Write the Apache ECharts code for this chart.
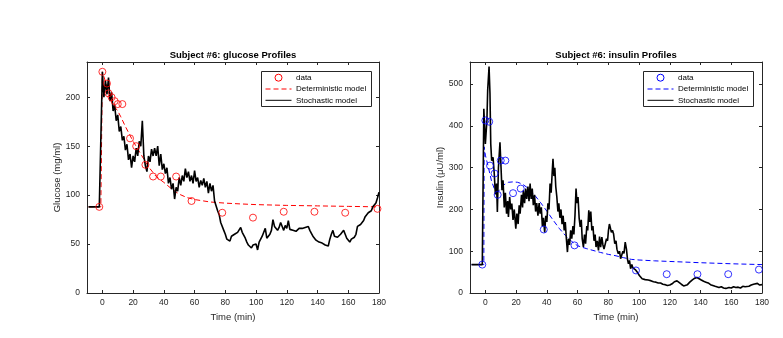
<!DOCTYPE html>
<html>
<head>
<meta charset="utf-8">
<script src="https://cdn.jsdelivr.net/npm/echarts@6/dist/echarts.min.js"></script>
<style>
  body { margin: 0; background: #fff; }
  #chart { width: 783px; height: 338px; }
</style>
</head>
<body>
<div id="chart"></div>
<script>
// glucose panel
const glucoseT = [-2, 0, 3, 4, 6, 8, 10, 13, 18, 22, 28, 33, 38, 48, 58, 78, 98, 118, 138, 158, 179];
const glucoseV = [88, 226, 214, 204, 200, 196, 193, 193, 158, 150, 131, 119, 119, 119, 94, 82, 77, 83, 83, 82, 86];
const glucoseDet = [[-9, 88], [-1, 88], [0, 226], [2, 216], [4, 205], [6, 196], [8, 190], [10, 186], [12, 180],
  [15, 170], [20, 155], [25, 142], [30, 129], [35, 119], [40, 113], [45, 106.5], [50, 101], [55, 97.5],
  [60, 95.5], [70, 93], [80, 91.8], [90, 91], [100, 90.3], [120, 89.5], [140, 89], [160, 88.5], [180, 88]];
const glucoseStoch = [[-9, 88], [-2, 88], [0, 226], [1, 200], [2, 217], [3, 203], [4, 220], [5, 196], [6, 205],
  [7, 186], [8, 192], [9, 176], [10, 182], [11, 165], [12, 170], [13, 156], [14, 160], [15, 146], [16, 152],
  [17, 136], [18, 142], [19, 128], [20, 140], [21, 134], [22, 148], [23, 140], [24, 155], [25, 150], [26, 176],
  [27, 140], [28, 130], [29, 124], [30, 140], [31, 134], [32, 147], [33, 140], [34, 148], [35, 140], [36, 150],
  [37, 130], [38, 142], [39, 126], [40, 132], [41, 122], [42, 128], [43, 112], [44, 118], [45, 106], [46, 112],
  [47, 96], [48, 108], [49, 104], [50, 118], [51, 110], [52, 120], [53, 114], [54, 127], [55, 118], [56, 124],
  [57, 114], [58, 120], [59, 112], [60, 125], [61, 114], [62, 118], [63, 108], [64, 115], [65, 110], [66, 117],
  [67, 108], [68, 114], [69, 102], [70, 112], [71, 104], [72, 110], [73, 94], [74, 96], [75, 84], [76, 80],
  [77, 72], [78, 74], [79, 64], [80, 60], [81, 55], [82, 57], [83, 53], [84, 58], [85, 56], [86, 60], [87, 58],
  [88, 62], [89, 63], [90, 67], [91, 62], [92, 60], [93, 56], [94, 52], [95, 49], [96, 50], [97, 46], [98, 49],
  [99, 47], [100, 50], [101, 44], [102, 52], [103, 50], [104, 58], [105, 62], [106, 66], [107, 56], [108, 54],
  [109, 60], [110, 64], [111, 75], [112, 68], [113, 70], [114, 64], [115, 67], [116, 72], [117, 68], [118, 64],
  [119, 69], [120, 66], [121, 74], [122, 65], [123, 63], [124, 64], [125, 66], [126, 63], [127, 64], [128, 66],
  [129, 64], [130, 66], [131, 65], [132, 67], [133, 66], [134, 68], [135, 64], [136, 61], [137, 58], [138, 56],
  [139, 54], [140, 55], [141, 52], [142, 53], [143, 51], [144, 52], [145, 49], [146, 50], [147, 48], [148, 55],
  [149, 60], [150, 64], [151, 58], [152, 60], [153, 57], [154, 56], [155, 60], [156, 62], [157, 64], [158, 60],
  [159, 56], [160, 54], [161, 52], [162, 55], [163, 53], [164, 57], [165, 60], [166, 68], [167, 66], [168, 70],
  [169, 68], [170, 74], [171, 78], [172, 80], [173, 82], [174, 80], [175, 84], [176, 88], [177, 90], [178, 92],
  [179, 97], [180, 103]];

// insulin panel
const insulinT = [-2, 0, 2.5, 3, 6, 8, 10, 13, 18, 23, 38, 58, 98, 118, 138, 158, 178];
const insulinV = [68, 413, 410, 305, 286, 235, 317, 317, 239, 250, 152, 114, 54, 45, 45, 45, 56];
const insulinDet = [[-9, 68], [-1, 68], [-0.8, 350], [0, 330], [2, 300], [4, 268], [6, 248], [8, 242], [10, 250],
  [12, 259], [15, 265], [18, 266], [21, 265], [24, 261], [27, 253], [30, 243], [33, 230], [36, 216], [40, 196],
  [44, 175], [48, 155], [52, 138], [56, 124], [60, 113], [66, 106], [70, 102], [75, 97], [80, 92.5], [85, 89],
  [90, 84.5], [95, 80.5], [100, 79], [110, 77], [120, 75.5], [140, 72.5], [160, 70], [180, 68]];
const insulinStoch = [[-9, 68], [-2, 68], [-1, 441], [0, 357], [1, 413], [1.5, 485], [2.4, 542], [3, 477],
  [3.5, 357], [4.1, 317], [5, 325], [5.8, 285], [6.5, 236], [7.3, 262], [7.8, 194], [8.5, 300], [9.5, 361],
  [10.2, 300], [10.8, 246], [11.5, 270], [12.3, 205], [13, 240], [13.8, 190], [14.5, 220], [15, 182], [15.8, 230],
  [16.5, 200], [17.2, 214], [18, 175], [18.8, 200], [19.8, 154], [20.5, 190], [21.3, 165], [22, 210], [22.6, 190],
  [23.5, 235], [24.2, 205], [24.7, 246], [25.5, 215], [26.2, 250], [26.9, 225], [27.7, 255], [28.4, 220],
  [29.1, 262], [29.8, 225], [30.5, 250], [31.2, 210], [32, 235], [32.7, 195], [33.4, 215], [34.2, 185], [35, 215],
  [35.6, 190], [36.4, 205], [37.1, 160], [37.8, 180], [38.6, 145], [39.3, 185], [40, 170], [40.7, 215],
  [41.4, 200], [42.1, 262], [42.8, 240], [43.5, 290], [44, 321], [44.6, 280], [45.2, 300], [45.8, 255],
  [46.5, 230], [47.2, 195], [47.8, 215], [48.5, 180], [49.2, 200], [49.9, 165], [50.6, 185], [51.3, 150],
  [52, 170], [52.7, 130], [53.4, 98], [54, 130], [54.8, 115], [55.5, 150], [56.2, 130], [57, 160], [57.6, 140],
  [58.3, 185], [59, 250], [59.6, 215], [60.3, 230], [61, 180], [61.7, 158], [62.4, 175], [63, 130], [63.8, 110],
  [64.5, 140], [65.2, 118], [66, 160], [66.6, 150], [67.3, 198], [68, 170], [68.6, 195], [69.3, 150], [70, 160],
  [70.7, 125], [71.4, 140], [72, 110], [72.8, 125], [73.6, 102], [74.3, 135], [75, 110], [75.8, 134], [76.5, 115],
  [77.2, 105], [78, 102], [78.8, 130], [79.5, 125], [80.1, 150], [80.7, 165], [81.2, 158], [82, 145], [82.7, 150],
  [83.4, 142], [84.2, 118], [85, 125], [85.6, 105], [86.5, 94], [87.3, 100], [88, 82], [88.8, 86], [89.5, 100],
  [90.2, 95], [91, 122], [91.8, 105], [92.5, 80], [93.1, 70], [93.8, 78], [94.5, 58], [95.3, 68], [96, 60],
  [96.8, 64], [97.5, 56], [98.2, 60], [98.8, 50], [99.6, 52], [100.2, 42], [101, 40], [102, 34], [103, 36],
  [104, 32], [105, 30], [106, 31], [107, 28], [108, 29], [109.4, 27], [111, 26], [112.5, 24], [114, 24],
  [115.5, 21], [117, 20], [118.5, 18], [120, 19], [121.5, 22], [123, 27], [124.7, 29], [126, 25], [127.5, 21],
  [129, 17], [130, 16], [131.5, 20], [133, 26], [134.5, 31], [136, 35], [137.7, 37], [139, 34], [140.5, 31],
  [142, 28], [143.5, 26], [145, 24], [146.5, 20], [148, 18], [149.5, 16], [150.7, 14], [152, 13], [153.5, 15],
  [155, 12], [156.5, 11], [157.5, 10], [158.5, 13], [160, 12], [161.5, 15], [163, 13], [164.5, 14], [166, 12],
  [167.5, 16], [169, 15], [170.3, 18], [171.5, 16], [173, 19], [174.5, 21], [175.7, 20], [177, 23], [178.5, 19],
  [180, 20]];

const legendLabels = ['data', 'Deterministic model', 'Stochastic model'];

const font = 'Liberation Sans, Arial, Helvetica, sans-serif';
const ink = '#262626';

function pairs(ts, vs) {
  return ts.map((t, i) => [t, vs[i]]);
}

function xAxes(gridIndex, title) {
  const common = {
    type: 'value', gridIndex, min: -10, max: 180, splitNumber: 10,
    axisLine: { show: true, onZero: false, lineStyle: { color: ink, width: 1 } },
    axisTick: { show: true, inside: true, length: 3, lineStyle: { color: ink } },
    splitLine: { show: false }
  };
  return [
    Object.assign({}, common, {
      position: 'bottom', name: 'Time (min)', nameLocation: 'middle', nameGap: 17,
      nameTextStyle: { fontSize: 9.5, color: ink, fontFamily: font },
      axisLabel: { fontSize: 8.5, color: ink, margin: 5, fontFamily: font, showMinLabel: false }
    }),
    Object.assign({}, common, {
      position: 'top', name: title, nameLocation: 'middle', nameGap: 2,
      nameTextStyle: { fontSize: 9.5, fontWeight: 'bold', color: '#000', fontFamily: font },
      axisLabel: { show: false }
    })
  ];
}

function yAxes(gridIndex, max, interval, name, gap) {
  const common = {
    type: 'value', gridIndex, min: 0, max, interval,
    axisLine: { show: true, onZero: false, lineStyle: { color: ink, width: 1 } },
    axisTick: { show: true, inside: true, length: 3, lineStyle: { color: ink } },
    splitLine: { show: false }
  };
  return [
    Object.assign({}, common, {
      position: 'left', name, nameLocation: 'middle', nameGap: gap,
      nameTextStyle: { fontSize: 9.5, color: ink, fontFamily: font },
      axisLabel: { fontSize: 8.5, color: ink, margin: 7, fontFamily: font, showMaxLabel: false }
    }),
    Object.assign({}, common, { position: 'right', axisLabel: { show: false } })
  ];
}

function panelSeries(color, xi, yi, obs, det, stoch) {
  return [
    {
      name: legendLabels[0], type: 'scatter', xAxisIndex: xi, yAxisIndex: yi, z: 5,
      symbol: 'circle', symbolSize: 7,
      itemStyle: { color: 'transparent', borderColor: color, borderWidth: 1 },
      data: obs
    },
    {
      name: legendLabels[1], type: 'line', xAxisIndex: xi, yAxisIndex: yi, z: 3,
      symbol: 'none', lineStyle: { color, width: 1, type: [5, 3] }, itemStyle: { color },
      data: det
    },
    {
      name: legendLabels[2], type: 'line', xAxisIndex: xi, yAxisIndex: yi, z: 4,
      symbol: 'none', lineStyle: { color: '#000', width: 1.6 }, itemStyle: { color: '#000' },
      data: stoch
    }
  ];
}

// MATLAB-style legend box: white box, glyph column, label column
function legendBox(x0, color) {
  const rows = [77.7, 89, 100.3];
  const gx = x0 + 4.5, gw = 26, tx = x0 + 35;
  const els = [
    { type: 'rect', shape: { x: x0 + 0.5, y: 71.5, width: 110, height: 35 },
      style: { fill: '#fff', stroke: ink, lineWidth: 1 } },
    { type: 'circle', shape: { cx: gx + gw / 2, cy: rows[0], r: 3.5 },
      style: { fill: 'none', stroke: color, lineWidth: 1 } },
    { type: 'line', shape: { x1: gx, y1: rows[1], x2: gx + gw, y2: rows[1] },
      style: { stroke: color, lineWidth: 1, lineDash: [5, 3] } },
    { type: 'line', shape: { x1: gx, y1: rows[2], x2: gx + gw, y2: rows[2] },
      style: { stroke: '#000', lineWidth: 1 } }
  ];
  legendLabels.forEach((label, i) => {
    els.push({ type: 'text', x: tx, y: rows[i],
      style: { text: label, fill: '#000', font: '8px ' + font, verticalAlign: 'middle' } });
  });
  return els.map(e => Object.assign({ z: 100, silent: true }, e));
}

const chart = echarts.init(document.getElementById('chart'), null, { renderer: 'canvas' });
chart.setOption({
  animation: false,
  backgroundColor: '#fff',
  grid: [
    { left: 87, top: 62, width: 292, height: 231 },
    { left: 470, top: 62, width: 292, height: 231 }
  ],
  xAxis: xAxes(0, 'Subject #6: glucose Profiles').concat(xAxes(1, 'Subject #6: insulin Profiles')),
  yAxis: yAxes(0, 236, 50, 'Glucose (mg/ml)', 16).concat(yAxes(1, 553, 100, 'Insulin (μU/ml)', 20)),
  graphic: legendBox(261, '#ff0000').concat(legendBox(643, '#0000ff')),
  series: panelSeries('#ff0000', 0, 0, pairs(glucoseT, glucoseV), glucoseDet, glucoseStoch)
    .concat(panelSeries('#0000ff', 2, 2, pairs(insulinT, insulinV), insulinDet, insulinStoch))
});
</script>
</body>
</html>
